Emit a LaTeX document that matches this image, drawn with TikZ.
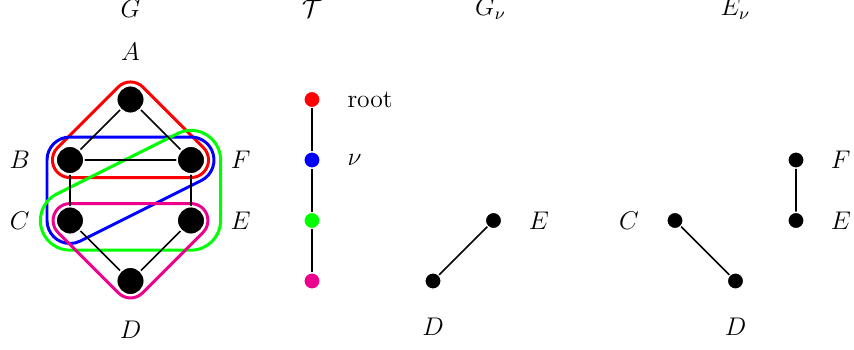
\documentclass[tikz,border=0pt]{standalone}
\usetikzlibrary{calc}
\definecolor{hred}{RGB}{255,0,0}
\definecolor{hblue}{RGB}{0,0,255}
\definecolor{hgreen}{RGB}{0,255,0}
\definecolor{hmag}{RGB}{236,0,140}
\begin{document}
\begin{tikzpicture}[x=1cm,y=1cm,
  big/.style={circle,fill=black,draw=white,line width=0.8pt,minimum size=0.46cm,inner sep=0pt},
  small/.style={circle,fill=#1,draw=white,line width=0.6pt,minimum size=0.27cm,inner sep=0pt},
  small/.default=black,
  lbl/.style={font=\large,inner sep=0pt},
  edge/.style={line width=0.8pt},
  hyper/.style={line width=1.4pt,draw=#1,line join=round}]
\useasboundingbox (-1.157,-3.14) rectangle (12.959,2.645);
% titles
\node[lbl] (tG) at (1,2.5) {$G$};
\node[lbl] (tT) at (4,2.5) {$\mathcal{T}$};
\node[lbl] (tGn) at (6.95,2.5) {$G_\nu$};
\node[lbl] (tEn) at (11,2.5) {$E_\nu$};
% left graph coordinates
\coordinate (A) at (1,1);
\coordinate (B) at (0,0);
\coordinate (F) at (2,0);
\coordinate (C) at (0,-1);
\coordinate (E) at (2,-1);
\coordinate (D) at (1,-2);
% hyperedges
\def\r{0.29}
\draw[hyper=hred] ($(A)+(135:\r)$) -- ($(B)+(135:\r)$) arc[start angle=135,end angle=270,radius=\r]
  -- ($(F)+(270:\r)$) arc[start angle=270,end angle=405,radius=\r]
  -- ($(A)+(45:\r)$) arc[start angle=45,end angle=135,radius=\r] -- cycle;
\def\r{0.38}
\draw[hyper=hblue] ($(B)+(180:\r)$) -- ($(C)+(180:\r)$) arc[start angle=180,end angle=296.565,radius=\r]
  -- ($(F)+(296.565:\r)$) arc[start angle=296.565,end angle=450,radius=\r]
  -- ($(B)+(90:\r)$) arc[start angle=90,end angle=180,radius=\r] -- cycle;
\def\r{0.49}
\draw[hyper=hgreen] ($(C)+(270:\r)$) -- ($(E)+(270:\r)$) arc[start angle=270,end angle=360,radius=\r]
  -- ($(F)+(0:\r)$) arc[start angle=0,end angle=116.565,radius=\r]
  -- ($(C)+(116.565:\r)$) arc[start angle=116.565,end angle=270,radius=\r] -- cycle;
\def\r{0.28}
\draw[hyper=hmag] ($(C)+(225:\r)$) -- ($(D)+(225:\r)$) arc[start angle=225,end angle=315,radius=\r]
  -- ($(E)+(315:\r)$) arc[start angle=315,end angle=450,radius=\r]
  -- ($(C)+(90:\r)$) arc[start angle=90,end angle=225,radius=\r] -- cycle;
% edges
\draw[edge] (A) -- (B) (A) -- (F) (B) -- (F) (B) -- (C) (F) -- (E) (C) -- (D) (E) -- (D);
% left graph nodes
\node[big] (nA) at (A) {};
\node[big] (nB) at (B) {};
\node[big] (nF) at (F) {};
\node[big] (nC) at (C) {};
\node[big] (nE) at (E) {};
\node[big] (nD) at (D) {};
\node[lbl] (lA) at (1,1.79) {$A$};
\node[lbl] (lB) at (-0.83,0) {$B$};
\node[lbl] (lF) at (2.82,0) {$F$};
\node[lbl] (lC) at (-0.83,-1) {$C$};
\node[lbl] (lE) at (2.82,-1) {$E$};
\node[lbl] (lD) at (1,-2.8) {$D$};
% tree
\node[small=hred] (t1) at (4,1) {};
\node[small=hblue] (t2) at (4,0) {};
\node[small=hgreen] (t3) at (4,-1) {};
\node[small=hmag] (t4) at (4,-2) {};
\draw[edge] (t1) -- (t2) (t2) -- (t3) (t3) -- (t4);
\node[lbl,anchor=west] (lroot) at (4.58,1) {root};
\node[lbl,anchor=west] (lnu) at (4.58,0) {$\nu$};
% G_nu
\node[small] (gE) at (7,-1) {};
\node[small] (gD) at (6,-2) {};
\draw[edge] (gD) -- (gE);
\node[lbl] (lgE) at (7.75,-1) {$E$};
\node[lbl] (lgD) at (6,-2.76) {$D$};
% E_nu
\node[small] (eC) at (10,-1) {};
\node[small] (eD) at (11,-2) {};
\node[small] (eF) at (12,0) {};
\node[small] (eE) at (12,-1) {};
\draw[edge] (eC) -- (eD) (eF) -- (eE);
\node[lbl] (leC) at (9.24,-1) {$C$};
\node[lbl] (leD) at (11,-2.76) {$D$};
\node[lbl] (leF) at (12.74,0) {$F$};
\node[lbl] (leE) at (12.74,-1) {$E$};
\end{tikzpicture}
\end{document}
